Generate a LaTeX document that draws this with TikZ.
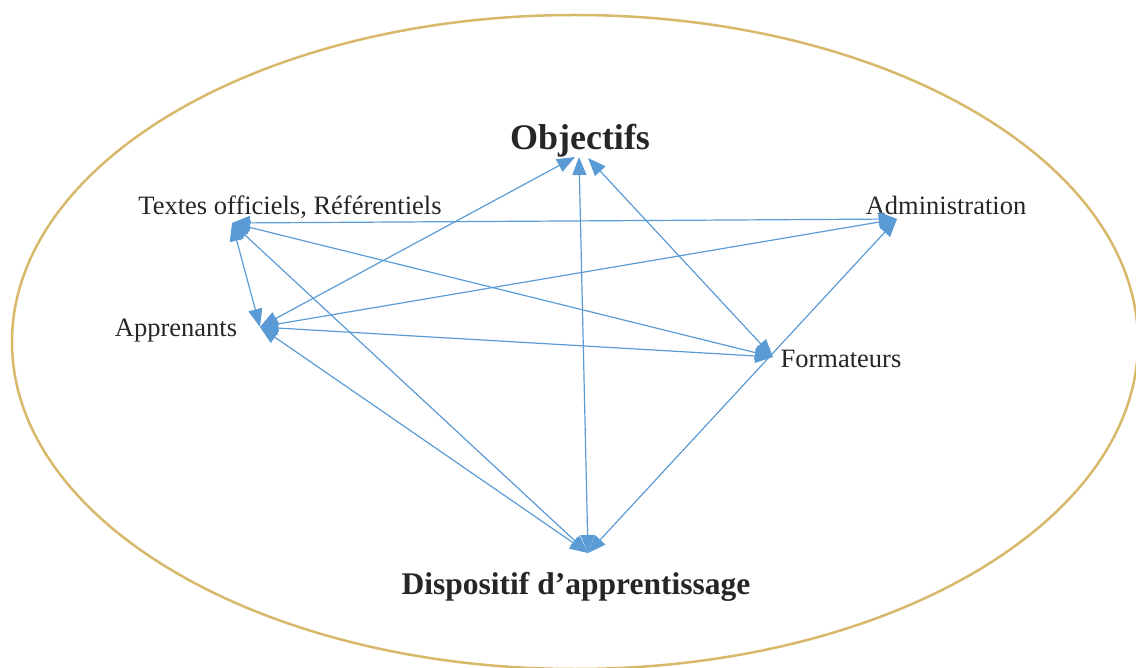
\documentclass[tikz,border=0pt]{standalone}
\usepackage{fontspec}
\setmainfont{Liberation Serif}
\usetikzlibrary{arrows.meta}
\definecolor{linkblue}{HTML}{5B9BD5}
\definecolor{rimgold}{HTML}{D8B86A}
\begin{document}
\begin{tikzpicture}[x=1pt,y=-1pt,
  lbl/.style={inner sep=0pt,anchor=base,font=\fontsize{26.5}{30}\selectfont,text=black!85},
  bigobj/.style={inner sep=0pt,anchor=base,font=\fontsize{36}{40}\selectfont\bfseries,text=black!85},
  bigdisp/.style={inner sep=0pt,anchor=base,font=\fontsize{31.5}{36}\selectfont\bfseries,text=black!85},
  link/.style={draw=linkblue,line width=1.2pt,{Triangle[length=18pt,width=14pt]}-{Triangle[length=18pt,width=14pt]}}]
\useasboundingbox (0,0) rectangle (1136,668);
\begin{scope}
\clip (0,0) rectangle (1136,668);
\draw[rimgold,line width=2.5pt] (575,342) ellipse [x radius=563, y radius=327];
\end{scope}
% labels
\node[bigobj] (obj) at (580,150) {Objectifs};
\node[lbl] (txt) at (290,215) {Textes officiels, Référentiels};
\node[lbl] (adm) at (946,215) {Administration};
\node[lbl] (app) at (176,337) {Apprenants};
\node[lbl] (frm) at (841,368) {Formateurs};
\node[bigdisp] (dsp) at (576,594) {Dispositif d’apprentissage};
% hubs
\coordinate (Oa) at (575,157);
\coordinate (Od) at (579,157);
\coordinate (Of) at (588,158);
\coordinate (T) at (232,223);
\coordinate (A) at (260,327);
\coordinate (Ad) at (897,219);
\coordinate (F) at (773,357);
\coordinate (D) at (588,553);
% connectors
\draw[link] (T) -- (Ad);
\draw[link] (T) -- (F);
\draw[link] (T) -- (A);
\draw[link] (T) -- (D);
\draw[link] (A) -- (Oa);
\draw[link] (A) -- (Ad);
\draw[link] (A) -- (F);
\draw[link] (A) -- (D);
\draw[link] (Od) -- (D);
\draw[link] (Of) -- (F);
\draw[link] (Ad) -- (D);
\end{tikzpicture}
\end{document}
